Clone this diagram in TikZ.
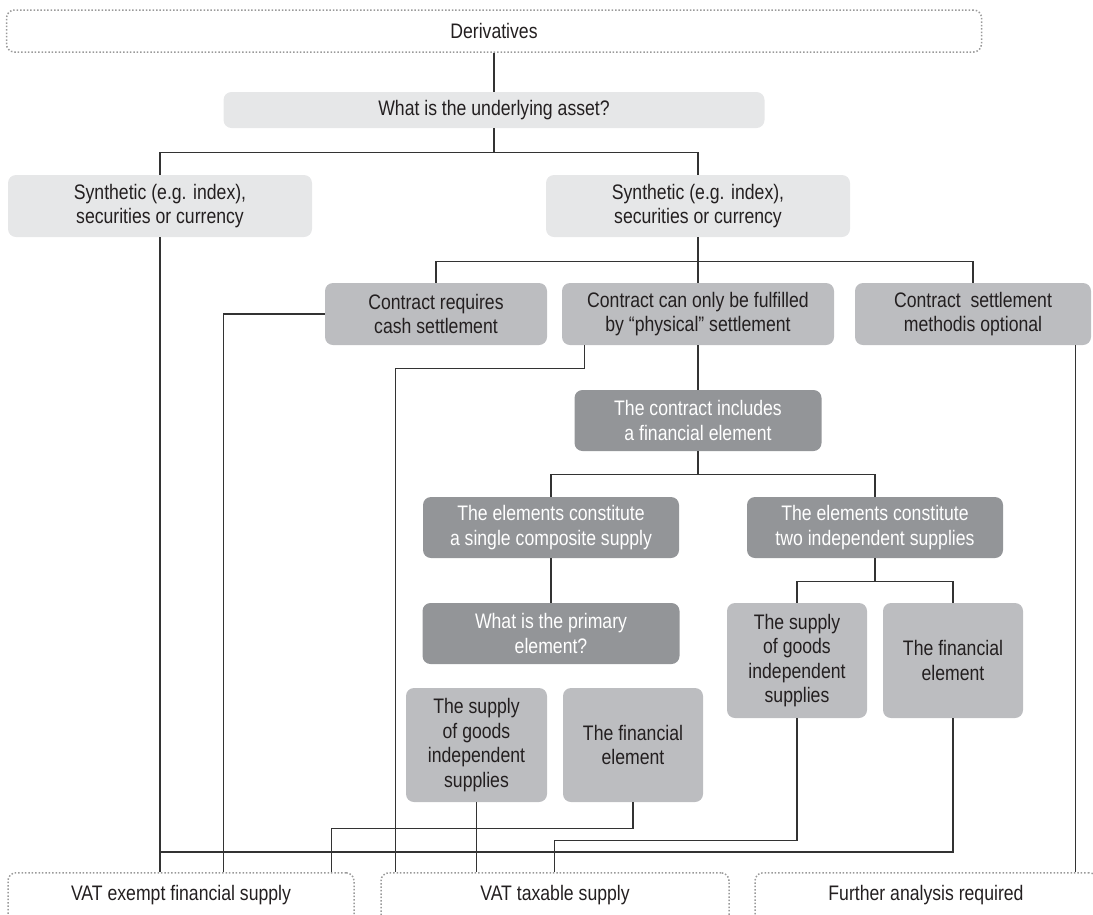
\documentclass[tikz,border=0pt]{standalone}
\usepackage{fontspec}
\setmainfont{Liberation Sans}[FakeStretch=0.84]
\definecolor{boxlight}{HTML}{E6E7E8}
\definecolor{boxmid}{HTML}{BCBDC0}
\definecolor{boxdark}{HTML}{939598}
\definecolor{ink}{HTML}{231F20}
\definecolor{wire}{HTML}{333333}
\definecolor{dots}{HTML}{9A9A9A}
\tikzset{
  box/.style={rounded corners=8pt, inner sep=0pt, align=center, text=ink,
              font=\fontsize{21}{24.5}\selectfont},
  light/.style={box, fill=boxlight},
  mid/.style={box, fill=boxmid},
  dark/.style={box, fill=boxdark, text=white},
  endbox/.style={box, draw=dots, line width=1.5pt, dash pattern=on 1.5pt off 1.9pt},
  link/.style={draw=wire, line width=1.2pt},
}
\begin{document}
\begin{tikzpicture}[x=1pt, y=-1pt]
  \useasboundingbox (0,0) rectangle (1093,914);
  \clip (0,0) rectangle (1093,914);

  %% top of the tree
  \node[endbox, minimum width=975, minimum height=42] (deriv) at (494,31) {Derivatives};
  \node[light, minimum width=541, minimum height=36] (asset) at (494,110) {What is the underlying asset?};
  \node[light, minimum width=304, minimum height=62] (synL) at (160,206) {Synthetic (e.g. index),\\ securities or currency};
  \node[light, minimum width=304, minimum height=62] (synR) at (698,206) {Synthetic (e.g. index),\\ securities or currency};

  %% settlement row
  \foreach \nm/\cx/\w/\lbl in {
      cash/436/222/{Contract requires\\ cash settlement},
      phys/698/272/{Contract can only be fulfilled\\ by “physical” settlement},
      opt/973/236/{Contract\ \ settlement\\ methodis optional}} {
    \node[mid, minimum width=\w, minimum height=62] (\nm) at (\cx,314) {\lbl};
  }

  %% financial element branch
  \node[dark, minimum width=247, minimum height=61] (fin) at (698,420.5) {The contract includes\\ a financial element};
  \node[dark, minimum width=256, minimum height=61] (single) at (551,527.5) {The elements constitute\\ a single composite supply};
  \node[dark, minimum width=256, minimum height=61] (two) at (875,527.5) {The elements constitute\\ two independent supplies};
  \node[dark, minimum width=257, minimum height=61] (primary) at (551,633.5) {What is the primary\\ element?};

  \node[mid, minimum width=140, minimum height=115] (rsup) at (797,660.5) {The supply\\ of goods\\ independent\\ supplies};
  \node[mid, minimum width=140, minimum height=115] (rfin) at (953,660.5) {The financial\\ element};
  \node[mid, minimum width=141, minimum height=114] (lsup) at (476.5,745) {The supply\\ of goods\\ independent\\ supplies};
  \node[mid, minimum width=140, minimum height=114] (lfin) at (633,745) {The financial\\ element};

  %% outcomes (cut by the page edge)
  \node[endbox, minimum width=346, text height=28pt, text depth=30pt, anchor=north] (exempt) at (181,872) {VAT exempt financial supply};
  \node[endbox, minimum width=348, text height=28pt, text depth=30pt, anchor=north] (taxable) at (555,872) {VAT taxable supply};
  \node[endbox, minimum width=342, text height=28pt, text depth=30pt, anchor=north] (further) at (926,872) {Further analysis required};

  %% tree connectors
  \draw[link] (deriv.south) -- (asset.north);
  \draw[link] (asset.south) -- ++(0,24) coordinate (fork1);
  \draw[link] (synL.north) |- (fork1) -| (synR.north);
  \draw[link] (synR.south) -- ++(0,24) coordinate (fork2);
  \draw[link] (cash.north) |- (fork2) -| (opt.north);
  \draw[link] (fork2) -- (phys.north);
  \draw[link] (phys.south) -- (fin.north);
  \draw[link] (fin.south) -- ++(0,23) coordinate (fork3);
  \draw[link] (single.north) |- (fork3) -| (two.north);
  \draw[link] (single.south) -- (primary.north);
  \draw[link] (two.south) -- ++(0,23) coordinate (fork4);
  \draw[link] (rsup.north) |- (fork4) -| (rfin.north);

  %% connectors to the outcomes
  \coordinate (join) at (160,852);
  \draw[link] (synL.south) -- (synL.south |- exempt.north);
  \draw[link] (cash.west) -| ([xshift=216pt]exempt.north west);
  \draw[link] ([xshift=23pt]phys.south west) -- ++(0,23) -| ([xshift=15pt]taxable.north west);
  \draw[link] (lfin.south) -- ++(0,26) -| ([xshift=324pt]exempt.north west);
  \draw[link] (lsup.south) -- (lsup.south |- taxable.north);
  \draw[link] (rsup.south) -- ++(0,122) -| ([xshift=174pt]taxable.north west);
  \draw[link] (rfin.south) |- (join);
  \draw[link] ([xshift=-16pt]opt.south east) -- ([xshift=-16pt]opt.south east |- further.north);
\end{tikzpicture}
\end{document}
